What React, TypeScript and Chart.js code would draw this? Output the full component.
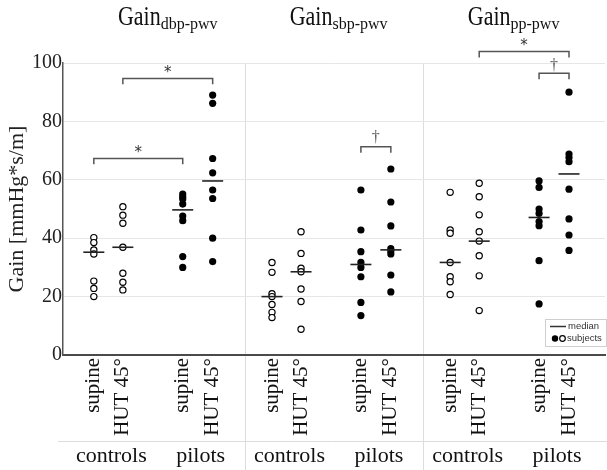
import React, { useEffect, useRef } from 'react';
import { Chart, registerables } from 'chart.js';

Chart.register(...registerables);

// ---------- text ----------
const panelTitles = ['Gain', 'Gain', 'Gain'];
const panelSubscripts = ['dbp-pwv', 'sbp-pwv', 'pp-pwv'];
const conditionLabels = ['supine', 'HUT 45°', 'supine', 'HUT 45°'];
const cohortLabels = ['controls', 'pilots'];
const yAxisTitle = 'Gain [mmHg*s/m]';
const yTickValues = [0, 20, 40, 60, 80, 100];
const legendLabels = ['median', 'subjects'];

// position of the four groups inside one panel (a panel is one x unit)
const groupOffsets = [0.151, 0.314, 0.65, 0.818];
// where each panel title is centred (x units)
const titleAnchors = [0.566, 1.525, 2.507];

// ---------- values: Gain dbp-pwv ----------
const dbpControlsSupine = [40.2, 38.5, 36.0, 34.6, 25.3, 22.8, 20.0];
const dbpControlsHut = [50.8, 47.9, 45.1, 36.9, 28.0, 24.9, 22.3];
const dbpPilotsSupine = [55.1, 54.2, 53.4, 51.7, 47.6, 46.0, 33.7, 30.0];
const dbpPilotsHut = [89.0, 86.2, 67.3, 62.4, 56.5, 53.6, 40.0, 32.0];
const dbpMedians = [35.2, 36.9, 49.7, 59.6];

// ---------- values: Gain sbp-pwv ----------
const sbpControlsSupine = [31.7, 28.3, 21.0, 20.0, 17.3, 14.6, 12.8];
const sbpControlsHut = [42.2, 34.8, 29.7, 28.5, 22.6, 18.3, 8.8];
const sbpPilotsSupine = [56.5, 42.8, 35.4, 31.7, 30.0, 26.8, 18.0, 13.5];
const sbpPilotsHut = [63.7, 52.4, 44.2, 36.4, 35.6, 34.6, 27.4, 21.6];
const sbpMedians = [20.0, 28.5, 31.0, 36.0];

// ---------- values: Gain pp-pwv ----------
const ppControlsSupine = [55.7, 42.8, 41.7, 31.7, 26.8, 25.1, 20.7];
const ppControlsHut = [58.8, 54.2, 48.0, 42.2, 39.0, 34.0, 27.1, 15.2];
const ppPilotsSupine = [59.6, 57.4, 50.0, 48.5, 45.7, 44.3, 32.3, 17.5];
const ppPilotsHut = [90.0, 68.8, 67.6, 66.2, 56.8, 46.6, 41.1, 35.8];
const ppMedians = [31.7, 39.0, 47.1, 62.0];

// ---------- significance brackets ----------
const bracketPanel = [0, 0, 1, 2, 2];
const bracketFrom = [0, 1, 2, 1, 2];
const bracketTo = [2, 3, 3, 3, 3];
const bracketTop = [67.3, 94.7, 71.3, 103.9, 96.5];
const bracketEnd = [65.3, 92.7, 69.3, 101.9, 94.4];
const bracketMarks = ['*', '*', '\u2020', '*', '\u2020'];
const bracketMarkValue = [70.5, 97.9, 74.5, 107.3, 99.3];

const panelGroups = [
  [dbpControlsSupine, dbpControlsHut, dbpPilotsSupine, dbpPilotsHut],
  [sbpControlsSupine, sbpControlsHut, sbpPilotsSupine, sbpPilotsHut],
  [ppControlsSupine, ppControlsHut, ppPilotsSupine, ppPilotsHut],
];
const panelMedians = [dbpMedians, sbpMedians, ppMedians];

const groupX = (panel: number, group: number) => panel + groupOffsets[group];
const groupPositions: number[] = [];
const groupTickLabels: string[] = [];
for (let p = 0; p < 3; p++) {
  for (let g = 0; g < 4; g++) {
    groupPositions.push(groupX(p, g));
    groupTickLabels.push(conditionLabels[g]);
  }
}

const SERIF = '"Liberation Serif", "Times New Roman", serif';
const SANS = '"Liberation Sans", Arial, sans-serif';

const decorPlugin = {
  id: 'decor',
  beforeDraw(chart: any) {
    const { ctx, chartArea, scales } = chart;
    const x = scales.x;
    ctx.save();
    ctx.strokeStyle = '#dcdcdc';
    ctx.lineWidth = 1;
    for (let p = 1; p < 3; p++) {
      const px = Math.round(x.getPixelForValue(p)) + 0.5;
      ctx.beginPath();
      ctx.moveTo(px, chartArea.top);
      ctx.lineTo(px, chart.height);
      ctx.stroke();
    }
    const rowY = Math.round(chartArea.bottom + 86) + 0.5;
    ctx.beginPath();
    ctx.moveTo(chartArea.left - 5, rowY);
    ctx.lineTo(chart.width, rowY);
    ctx.stroke();
    ctx.restore();
  },
  afterDraw(chart: any) {
    const { ctx, chartArea, scales } = chart;
    const x = scales.x;
    const y = scales.y;
    ctx.save();

    // panel titles with subscripts
    for (let p = 0; p < 3; p++) {
      const mainFont = `22px ${SERIF}`;
      const subFont = `16px ${SERIF}`;
      ctx.font = mainFont;
      const wMain = ctx.measureText(panelTitles[p]).width;
      ctx.font = subFont;
      const wSub = ctx.measureText(panelSubscripts[p]).width;
      const cx = x.getPixelForValue(titleAnchors[p]);
      const startX = cx - (wMain + wSub) / 2;
      ctx.fillStyle = '#111';
      ctx.textAlign = 'left';
      ctx.textBaseline = 'alphabetic';
      ctx.save();
      ctx.translate(startX, 25);
      ctx.scale(1, 1.22);
      ctx.font = mainFont;
      ctx.fillText(panelTitles[p], 0, 0);
      ctx.restore();
      ctx.font = subFont;
      ctx.fillText(panelSubscripts[p], startX + wMain, 29);
    }

    // cohort labels
    ctx.font = `22px ${SERIF}`;
    ctx.fillStyle = '#111';
    ctx.textAlign = 'center';
    ctx.textBaseline = 'alphabetic';
    for (let p = 0; p < 3; p++) {
      for (let c = 0; c < 2; c++) {
        const mid = (groupX(p, c * 2) + groupX(p, c * 2 + 1)) / 2;
        ctx.fillText(cohortLabels[c], x.getPixelForValue(mid) + 3, chartArea.bottom + 107);
      }
    }

    // bracket marks
    for (let i = 0; i < bracketMarks.length; i++) {
      const mid = (groupX(bracketPanel[i], bracketFrom[i]) + groupX(bracketPanel[i], bracketTo[i])) / 2;
      const px = x.getPixelForValue(mid);
      const py = y.getPixelForValue(bracketMarkValue[i]);
      const isStar = bracketMarks[i] === '*';
      ctx.font = isStar ? `15px "DejaVu Sans", sans-serif` : `16px ${SERIF}`;
      ctx.fillStyle = isStar ? '#333' : '#555';
      ctx.textAlign = 'center';
      ctx.textBaseline = 'alphabetic';
      const m = ctx.measureText(bracketMarks[i]);
      const off = (m.actualBoundingBoxAscent - m.actualBoundingBoxDescent) / 2;
      ctx.fillText(bracketMarks[i], px, py + off);
    }

    // legend box
    const boxR = chartArea.right + 1;
    const boxB = chartArea.bottom - 9;
    const boxW = 61;
    const boxH = 27;
    const boxL = boxR - boxW;
    const boxT = boxB - boxH;
    ctx.fillStyle = '#ffffff';
    ctx.fillRect(boxL, boxT, boxW, boxH);
    ctx.strokeStyle = '#cfcfcf';
    ctx.lineWidth = 1;
    ctx.strokeRect(Math.round(boxL) + 0.5, Math.round(boxT) + 0.5, boxW, boxH);
    const row1 = boxT + 7.5;
    const row2 = boxT + 19.5;
    ctx.strokeStyle = '#333';
    ctx.lineWidth = 1.5;
    ctx.beginPath();
    ctx.moveTo(boxL + 5, row1);
    ctx.lineTo(boxL + 21, row1);
    ctx.stroke();
    ctx.fillStyle = '#000';
    ctx.beginPath();
    ctx.arc(boxL + 10, row2, 3.2, 0, Math.PI * 2);
    ctx.fill();
    ctx.strokeStyle = '#000';
    ctx.lineWidth = 1.2;
    ctx.beginPath();
    ctx.arc(boxL + 17.5, row2, 2.8, 0, Math.PI * 2);
    ctx.stroke();
    ctx.font = `9.5px ${SANS}`;
    ctx.fillStyle = '#333';
    ctx.textAlign = 'left';
    ctx.textBaseline = 'middle';
    ctx.fillText(legendLabels[0], boxL + 23, row1);
    ctx.fillText(legendLabels[1], boxL + 22, row2);

    ctx.restore();
  },
};

export default function App() {
  const canvasRef = useRef<HTMLCanvasElement | null>(null);

  useEffect(() => {
    document.body.style.margin = '0';
    const canvas = canvasRef.current;
    if (!canvas) return;

    const datasets: any[] = [];

    // medians (drawn on top)
    const medianPoints: any[] = [];
    for (let p = 0; p < 3; p++) {
      for (let g = 0; g < 4; g++) {
        medianPoints.push({ x: groupX(p, g), y: panelMedians[p][g] });
      }
    }
    datasets.push({
      label: 'median',
      data: medianPoints,
      pointStyle: 'line',
      pointRadius: 10.5,
      borderColor: '#222',
      backgroundColor: '#222',
      pointBorderWidth: 1.6,
      borderWidth: 1.6,
      showLine: false,
    });

    // brackets
    for (let i = 0; i < bracketMarks.length; i++) {
      const x1 = groupX(bracketPanel[i], bracketFrom[i]);
      const x2 = groupX(bracketPanel[i], bracketTo[i]);
      datasets.push({
        label: 'bracket' + i,
        data: [
          { x: x1, y: bracketEnd[i] },
          { x: x1, y: bracketTop[i] },
          { x: x2, y: bracketTop[i] },
          { x: x2, y: bracketEnd[i] },
        ],
        showLine: true,
        borderColor: '#555',
        borderWidth: 1.5,
        pointRadius: 0,
        fill: false,
        clip: false,
        tension: 0,
      });
    }

    // subjects
    for (let p = 0; p < 3; p++) {
      for (let g = 0; g < 4; g++) {
        const pilots = g >= 2;
        datasets.push({
          label: `subjects ${p}-${g}`,
          data: panelGroups[p][g].map((v) => ({ x: groupX(p, g), y: v })),
          pointRadius: pilots ? 3.6 : 3.1,
          pointBackgroundColor: pilots ? '#000' : '#fff',
          pointBorderColor: '#000',
          pointBorderWidth: pilots ? 0 : 1.2,
          showLine: false,
        });
      }
    }

    const chart = new Chart(canvas, {
      type: 'scatter',
      data: { datasets },
      options: {
        responsive: false,
        animation: false,
        events: [],
        layout: { autoPadding: false, padding: { top: 63, right: 2, left: 0, bottom: 0 } },
        plugins: {
          legend: { display: false },
          tooltip: { enabled: false },
        },
        scales: {
          x: {
            type: 'linear',
            min: -0.022,
            max: 3.02,
            afterBuildTicks: (s: any) => {
              s.ticks = groupPositions.map((v) => ({ value: v }));
            },
            afterFit: (s: any) => {
              s.height = 115;
              s.paddingLeft = 0;
              s.paddingRight = 0;
            },
            grid: { display: false, drawTicks: false },
            border: { display: true, color: '#4a4a4a', width: 2 },
            ticks: {
              autoSkip: false,
              minRotation: 90,
              maxRotation: 90,
              padding: 3,
              color: '#111',
              font: { family: SERIF, size: 21 },
              callback: (_v: any, i: number) => groupTickLabels[i],
            },
          },
          y: {
            type: 'linear',
            min: 0,
            max: 100,
            afterBuildTicks: (s: any) => {
              s.ticks = yTickValues.map((v) => ({ value: v }));
            },
            afterFit: (s: any) => {
              s.width = 63;
            },
            grid: { color: '#e6e6e6', drawTicks: false, lineWidth: 1 },
            border: { display: true, color: '#555', width: 1.5 },
            ticks: {
              padding: 1,
              color: '#222',
              font: { family: SERIF, size: 20 },
            },
            title: {
              display: true,
              text: yAxisTitle,
              color: '#222',
              font: { family: SERIF, size: 22 },
              padding: { top: 4, bottom: 0 },
            },
          },
        },
      },
      plugins: [decorPlugin],
    } as any);

    return () => chart.destroy();
  }, []);

  return (
    <div style={{ width: 607, height: 470 }}>
      <canvas ref={canvasRef} width={607} height={470} />
    </div>
  );
}
